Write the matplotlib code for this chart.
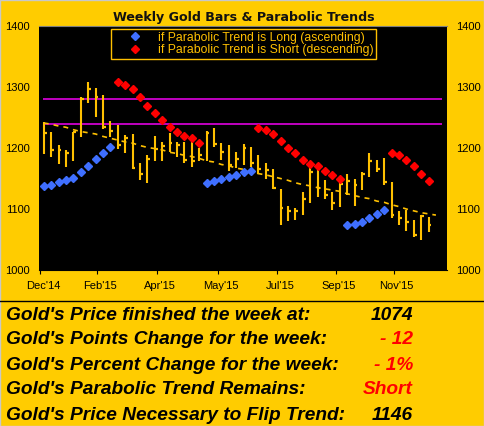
import numpy as np
import matplotlib.pyplot as plt
from matplotlib.lines import Line2D
from matplotlib.patches import Rectangle
from matplotlib.transforms import ScaledTranslation

# weekly bars, Dec'14 .. Nov'15
highs = [1242, 1226, 1205, 1197, 1226, 1283, 1308, 1299, 1287, 1245,
         1238, 1221, 1223, 1175, 1189, 1220, 1210, 1225, 1210, 1210,
         1216, 1200, 1228, 1232, 1208, 1205, 1194, 1207, 1201, 1189,
         1175, 1165, 1132, 1105, 1101, 1128, 1168, 1170, 1148, 1128,
         1142, 1157, 1149, 1161, 1192, 1181, 1183, 1144, 1097, 1098,
         1082, 1090, 1087]
lows = [1190, 1185, 1173, 1169, 1179, 1218, 1273, 1251, 1231, 1218,
        1198, 1191, 1165, 1148, 1143, 1179, 1179, 1193, 1185, 1176,
        1169, 1179, 1179, 1202, 1180, 1163, 1168, 1172, 1169, 1157,
        1149, 1133, 1074, 1081, 1082, 1090, 1110, 1119, 1117, 1099,
        1104, 1123, 1105, 1131, 1153, 1160, 1140, 1086, 1074, 1064,
        1054, 1049, 1063]
closes = [1224, 1196, 1197, 1191, 1226, 1280, 1296, 1284, 1235, 1228,
          1205, 1216, 1168, 1158, 1182, 1198, 1203, 1209, 1205, 1181,
          1179, 1189, 1224, 1207, 1193, 1172, 1182, 1200, 1176, 1166,
          1164, 1134, 1101, 1097, 1096, 1116, 1161, 1135, 1123, 1110,
          1141, 1146, 1139, 1158, 1179, 1166, 1144, 1090, 1086, 1079,
          1058, 1088, 1074]

# parabolic SAR per week
sar = [1137, 1140, 1144, 1148, 1151, 1160, 1170, 1182, 1192, 1202,
       1308, 1304, 1296, 1284, 1269, 1258, 1246, 1235, 1227, 1219, 1217, 1209,
       1143, 1146, 1150, 1153, 1156, 1160, 1163,
       1233, 1230, 1223, 1212, 1200, 1191, 1181, 1173, 1170, 1163, 1156, 1150,
       1074, 1076, 1079, 1086, 1092, 1099,
       1192, 1189, 1181, 1170, 1158, 1146]

# dashed trend line
trend = [1241, 1239, 1236, 1234, 1230, 1227, 1225, 1223, 1219, 1216,
         1213, 1210, 1208, 1204, 1201, 1199, 1197, 1193, 1191, 1188,
         1186, 1183, 1179, 1177, 1173, 1171, 1167, 1165, 1161, 1158,
         1156, 1153, 1150, 1147, 1143, 1140, 1138, 1135, 1133, 1131,
         1129, 1125, 1122, 1119, 1117, 1113, 1111, 1107, 1104, 1100,
         1097, 1094, 1092, 1090]

levels = [1240, 1280]

tick_pos = [-0.5, 7.2, 15.3, 23.5, 31.5, 39.5, 47.3]
tick_labels = ["Dec'14", "Feb'15", "Apr'15", "May'15", "Jul'15", "Sep'15", "Nov'15"]

rows = ["Gold's Price finished the week at:",
        "Gold's Points Change for the week:",
        "Gold's Percent Change for the week:",
        "Gold's Parabolic Trend Remains:",
        "Gold's Price Necessary to Flip Trend:"]
row_values = ["1074", "- 12", "- 1%", "Short", "1146"]
row_colors = ["black", "red", "red", "red", "black"]

bg = '#FFCC00'
gold = '#FFC000'
blue = '#3F6FFF'
red = '#FF0000'

fig = plt.figure(figsize=(4.84, 4.26), dpi=100, facecolor=bg)
W, H = 484, 426
ax = fig.add_axes([39 / W, 1 - 270 / H, (447 - 39) / W, (270 - 26) / H])
ax.set_facecolor('black')

x = np.arange(len(closes))
hi = np.array(highs)
lo = np.array(lows)
cl = np.array(closes)
ps = np.array(sar)

ax.hlines(levels, -0.15, 53.8, color='#E000E0', lw=1.2, zorder=1)
ax.plot(np.arange(len(trend)), trend, color=gold, lw=1.2, dashes=(3, 3), zorder=2)
ax.vlines(x, lo, hi, color=gold, lw=1.5, zorder=3)
ax.hlines(cl, x, x + 0.38, color=gold, lw=1.6, zorder=3)

is_long = ps < cl
ax.plot(x[is_long], ps[is_long], 'D', color=blue, ms=4.2, mec=blue, ls='none', zorder=4)
ax.plot(x[~is_long], ps[~is_long], 'D', color=red, ms=4.2, mec=red, ls='none', zorder=4)

ax.set_xlim(-0.64, 54.5)
ax.set_ylim(1000, 1400)
ax.set_yticks([1000, 1100, 1200, 1300, 1400])
ax.tick_params(axis='y', length=0, labelright=True, labelsize=8, pad=6.5,
               labelfontfamily='Liberation Sans')
ax.set_xticks(tick_pos)
ax.set_xticklabels(tick_labels, fontfamily='Liberation Sans', fontsize=8)
ax.tick_params(axis='x', length=3, color='black', pad=5)
for lab in ax.get_xticklabels():
    lab.set_transform(lab.get_transform() + ScaledTranslation(3 / 100, 0, fig.dpi_scale_trans))

for s in ['left', 'right']:
    ax.spines[s].set_visible(False)
ax.spines['top'].set_color('#808080')
ax.spines['bottom'].set_color('black')

handles = [Line2D([], [], marker='D', color=blue, ls='none', ms=4.2),
           Line2D([], [], marker='D', color=red, ls='none', ms=4.2)]
leg = ax.legend(handles, ['if Parabolic Trend is Long (ascending)',
                          'if Parabolic Trend is Short (descending)'],
                loc='upper left', bbox_to_anchor=((110.7 - 39) / 408, 1 - 3.3 / 244),
                borderaxespad=0, borderpad=0.2, handlelength=3.5, handletextpad=0.2,
                labelspacing=0.05, fancybox=False, facecolor='black', edgecolor=gold,
                framealpha=1, labelcolor=gold,
                prop={'family': 'Liberation Sans', 'size': 8.8})
leg.get_frame().set_linewidth(1)

fig.text(244 / W, 1 - 18 / H, 'Weekly Gold Bars & Parabolic Trends', ha='center', va='center',
         fontsize=9.1, fontweight='bold', color='#111111')

fig.add_artist(Line2D([0, 1], [1 - 300.7 / H] * 2, color='black', lw=1))

for k, (t, v, c) in enumerate(zip(rows, row_values, row_colors)):
    yy = 1 - (319.5 + 25 * k) / H
    fig.text(6 / W, yy, t, ha='left', va='baseline', fontsize=13.8, fontweight='bold',
             style='italic', family='Liberation Sans', color='black')
    fig.text(413 / W, yy, v, ha='right', va='baseline', fontsize=13.8, fontweight='bold',
             style='italic', family='Liberation Sans', color=c)

fig.add_artist(Rectangle((0, 0), 1, 1, transform=fig.transFigure, fill=False,
                         edgecolor='#C8C8C8', lw=1))

fig.savefig('out.png', dpi=100, facecolor=bg)
